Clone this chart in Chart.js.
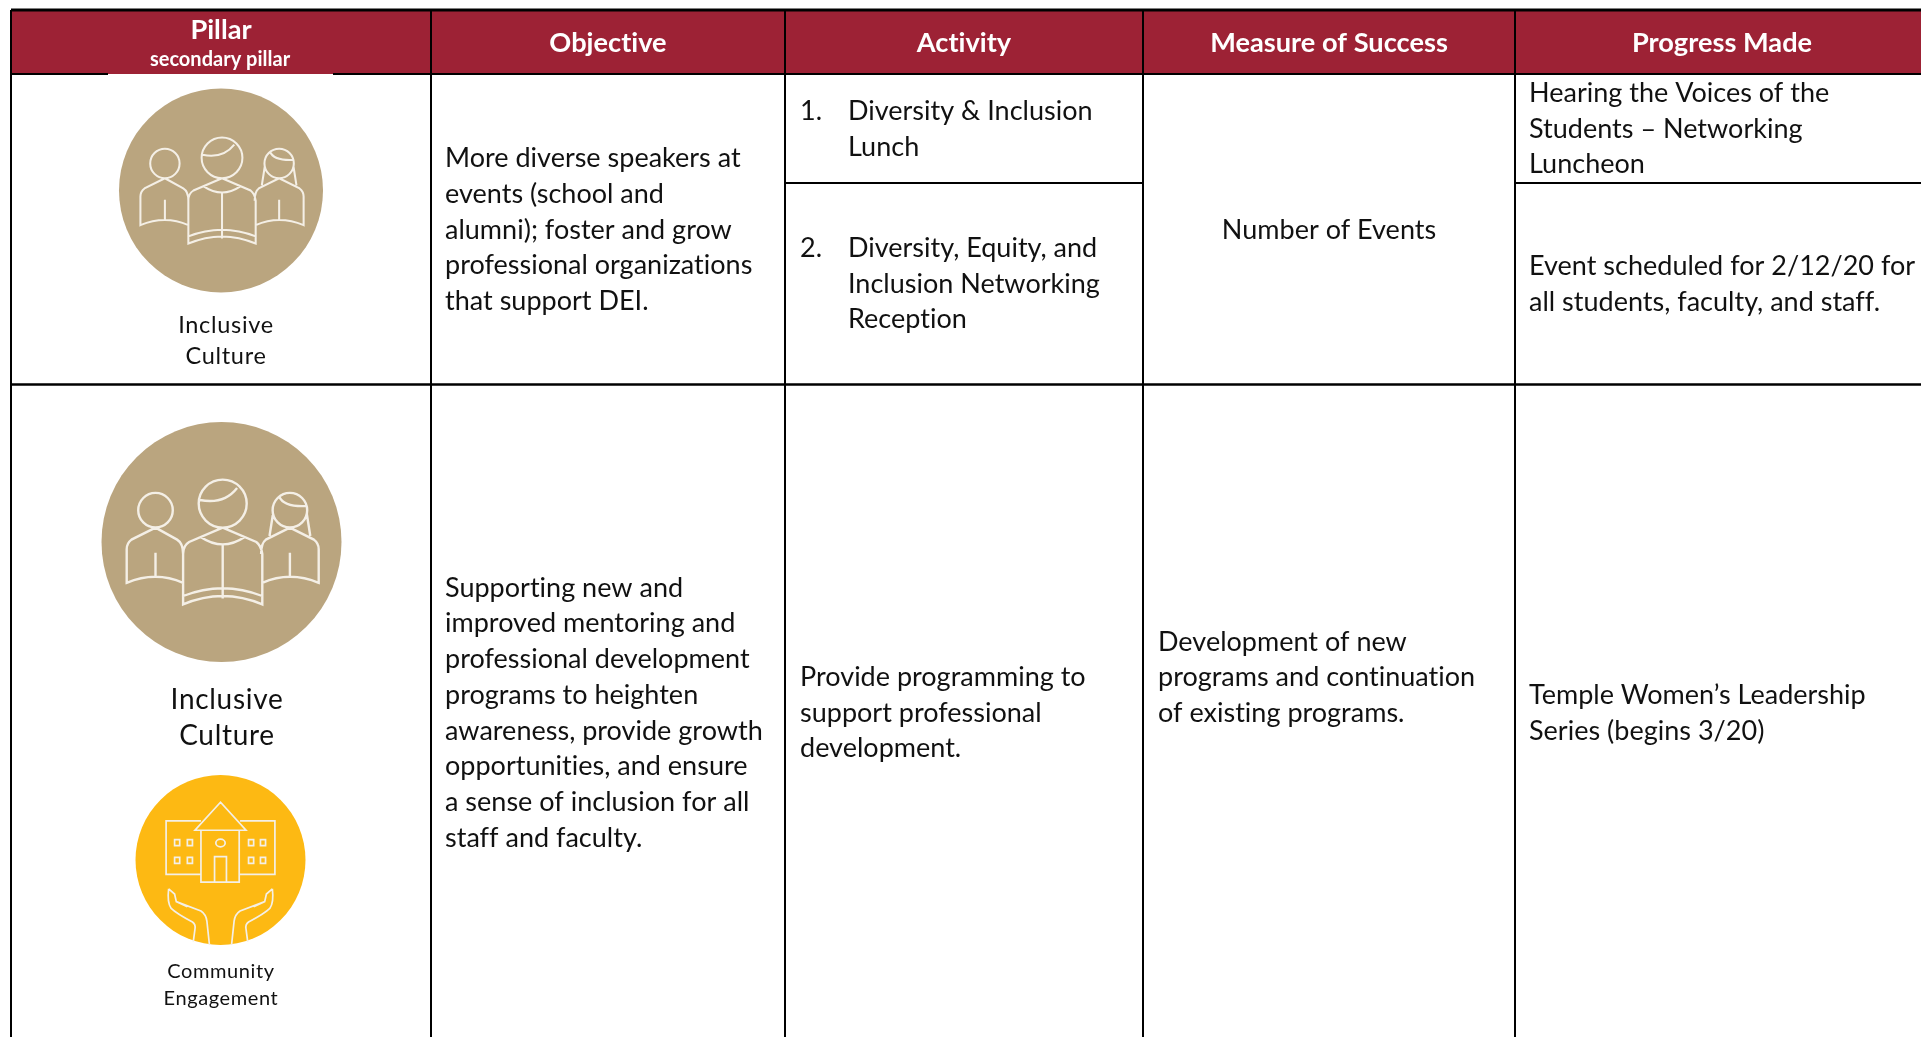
<!DOCTYPE html>
<html>
<head>
<meta charset="utf-8">
<title>Pillar table</title>
<script src="https://cdn.jsdelivr.net/npm/chart.js@4"></script>
<style>
  html, body { margin: 0; padding: 0; background: #fff; overflow: hidden; }
  canvas { display: block; }
</style>
</head>
<body>
<canvas id="pillarChart" width="1921" height="1037"></canvas>
<script>
// table content
const headers = ['Objective', 'Activity', 'Measure of Success', 'Progress Made'];
const pillarTitle = 'Pillar';
const pillarSubtitle = 'secondary pillar';
const objectiveTop = ['More diverse speakers at', 'events (school and', 'alumni); foster and grow', 'professional organizations', 'that support DEI.'];
const activityTopA = ['Diversity & Inclusion', 'Lunch'];
const activityTopB = ['Diversity, Equity, and', 'Inclusion Networking', 'Reception'];
const measureTop = ['Number of Events'];
const progressTopA = ['Hearing the Voices of the', 'Students \u2013 Networking', 'Luncheon'];
const progressTopB = ['Event scheduled for 2/12/20 for', 'all students, faculty, and staff.'];
const objectiveBottom = ['Supporting new and', 'improved mentoring and', 'professional development', 'programs to heighten', 'awareness, provide growth', 'opportunities, and ensure', 'a sense of inclusion for all', 'staff and faculty.'];
const activityBottom = ['Provide programming to', 'support professional', 'development.'];
const measureBottom = ['Development of new', 'programs and continuation', 'of existing programs.'];
const progressBottom = ['Temple Women\u2019s Leadership', 'Series (begins 3/20)'];
const pillarLabelTop = ['Inclusive', 'Culture'];
const pillarLabelMid = ['Inclusive', 'Culture'];
const pillarLabelLow = ['Community', 'Engagement'];

// table geometry, in page units on the hidden axes
const colEdges = [11, 431, 785, 1143, 1515];
const pageRight = 1921;
const pageBottom = 1037;
const tableTop = 10;
const headBottom = 74;
const subRow = 183;
const rowEdge = 384.5;
const rowMid = 713;

// icon discs
const discX = [221, 221.5, 220.5];
const discY = [190.5, 542, 860];
const discR = [102, 120, 85];
const TAN = '#BAA57F';
const GOLD = '#FDB913';
const CHERRY = '#9D2235';
const INK = '#111';

const peoplePath = new Path2D(
  'M21 -32a20 20 0 1 1 -40 0a20 20 0 1 1 40 0z M-18 -35Q2 -31 13 -45 ' +
  'M1 -12L-27 0Q-32 3 -32 10V52Q1 38 34 52V10Q33 3 29 0L1 -12 M-17 -4Q1 8 19 -4 M1 3V47 M-32 45Q1 32 34 45 ' +
  'M-40.6 -26.5a14.4 14.4 0 1 1 -28.8 0a14.4 14.4 0 1 1 28.8 0z ' +
  'M-55 -12L-75 -2Q-79 1 -79 6V34Q-55 24 -32 34 M-32 10Q-32 1 -37 -2L-55 -12 M-55 9V29 ' +
  'M71.4 -26.5a14.4 14.4 0 1 1 -28.8 0a14.4 14.4 0 1 1 28.8 0z M48 -38Q52 -29 71 -30 M43 -24L40 -5 M71 -24L74 -5 ' +
  'M57 -12L37 -2Q33 1 33 10 M34 34Q57 24 81 34V6Q81 1 77 -2L57 -12 M57 9V29'
);
const campusPath = new Path2D(
  'M-23 -46H-64V17H-23 M23 -46H64V17H23 M0 -68L-30 -35H30Z M-23 -35V26H22V-35 M-7 26V-4H7V26 ' +
  'M5.5 -20a5.5 4.5 0 1 1 -11 0a5.5 4.5 0 1 1 11 0z ' +
  'M-54 -24h6v7h-6z M-39 -24h6v7h-6z M33 -24h6v7h-6z M47 -24h6v7h-6z ' +
  'M-54 -3h6v7h-6z M-39 -3h6v7h-6z M33 -3h6v7h-6z M47 -3h6v7h-6z ' +
  'M-61 34Q-63 50 -58 57Q-52 63 -33 73Q-29 76 -30 81L-32 96 M-61 34L-54 40L-52 49L-39 55 M-52 49L-23 60Q-17 64 -16 72L-13 100 ' +
  'M61 34Q63 50 58 57Q52 63 33 73Q29 76 30 81L32 96 M61 34L54 40L52 49L39 55 M52 49L23 60Q17 64 16 72L13 100'
);

function putText(ctx, text, x, y, font, color, align, spacing) {
  ctx.save();
  ctx.font = font;
  ctx.fillStyle = color;
  ctx.textAlign = align || 'left';
  ctx.textBaseline = 'middle';
  // a non zero spacing also turns Lato's ti and fi ligatures off
  ctx.letterSpacing = (spacing || 0.01) + 'px';
  ctx.fillText(text, x, y);
  ctx.restore();
}

// lines is centred on cy, the way the table centres a cell
function putLines(ctx, lines, x, cy, opts) {
  const o = opts || {};
  const step = o.step || 35.7;
  const font = o.font || '27px Lato';
  const top = cy - step * (lines.length - 1) / 2;
  lines.forEach((line, i) => {
    putText(ctx, line, x, top + i * step, font, o.color || INK, o.align, o.spacing);
  });
}

const tablePlugin = {
  id: 'tablePlugin',
  beforeDatasetsDraw(chart) {
    const { ctx, scales } = chart;
    const px = v => scales.x.getPixelForValue(v);
    const py = v => scales.y.getPixelForValue(v);
    ctx.fillStyle = CHERRY;
    ctx.fillRect(px(colEdges[0]), py(tableTop), px(pageRight) - px(colEdges[0]), py(headBottom) - py(tableTop));
  },
  afterDatasetsDraw(chart) {
    const { ctx, scales } = chart;
    const px = v => scales.x.getPixelForValue(v);
    const py = v => scales.y.getPixelForValue(v);

    // icon artwork sits on the discs
    [[peoplePath, 0], [peoplePath, 1], [campusPath, 2]].forEach(([path, i]) => {
      ctx.save();
      ctx.translate(px(discX[i]), py(discY[i]));
      ctx.scale(discR[i] / 100, discR[i] / 100);
      ctx.strokeStyle = '#F4EFE6';
      ctx.lineWidth = 2;
      ctx.stroke(path);
      ctx.restore();
    });

    // header row
    const headFont = 'bold 27.2px Lato';
    putText(ctx, pillarTitle, px(221), py(30), headFont, '#fff', 'center');
    putText(ctx, pillarSubtitle, px(220), py(60), 'bold 20px Lato', '#fff', 'center');
    headers.forEach((h, i) => {
      const mid = i < 3 ? (colEdges[i + 1] + colEdges[i + 2]) / 2 : 1722;
      putText(ctx, h, px(mid), py(43), headFont, '#fff', 'center');
    });

    // first column labels
    putLines(ctx, pillarLabelTop, px(226), py(340.5), { step: 31, font: '23.5px Lato', align: 'center', spacing: 0.7 });
    putLines(ctx, pillarLabelMid, px(227), py(718), { step: 36.5, font: '28px Lato', align: 'center', spacing: 0.7 });
    putLines(ctx, pillarLabelLow, px(221), py(985), { step: 26.5, font: '20px Lato', align: 'center', spacing: 0.6 });

    // upper row
    putLines(ctx, objectiveTop, px(445), py(230));
    putText(ctx, '1.', px(800), py(111), '27px Lato', INK);
    putLines(ctx, activityTopA, px(848), py(129));
    putText(ctx, '2.', px(800), py(248.5), '27px Lato', INK);
    putLines(ctx, activityTopB, px(848), py(284));
    putLines(ctx, measureTop, px(1329), py(230), { align: 'center' });
    putLines(ctx, progressTopA, px(1529), py(129));
    putLines(ctx, progressTopB, px(1529), py(284));

    // lower row
    putLines(ctx, objectiveBottom, px(445), py(rowMid));
    putLines(ctx, activityBottom, px(800), py(rowMid));
    putLines(ctx, measureBottom, px(1158), py(677.5));
    putLines(ctx, progressBottom, px(1529), py(rowMid));
  }
};

// every rule of the table is a two point line dataset
function rule(x1, y1, x2, y2, width) {
  return {
    type: 'scatter',
    showLine: true,
    data: [{ x: x1, y: y1 }, { x: x2, y: y2 }],
    borderColor: '#000',
    borderWidth: width || 2,
    pointRadius: 0,
    order: 2
  };
}

const rules = [
  rule(colEdges[0], tableTop, pageRight, tableTop, 3),
  rule(colEdges[0], headBottom, 108, headBottom),
  rule(333, headBottom, pageRight, headBottom),
  rule(colEdges[0], rowEdge, pageRight, rowEdge, 2.5),
  rule(colEdges[2], subRow, colEdges[3], subRow),
  rule(colEdges[4], subRow, pageRight, subRow),
  ...colEdges.map(x => rule(x, tableTop, x, pageBottom))
];

new Chart(document.getElementById('pillarChart'), {
  type: 'bubble',
  data: {
    datasets: [
      {
        label: 'Pillars',
        data: discX.map((x, i) => ({ x: x, y: discY[i], r: discR[i] })),
        backgroundColor: [TAN, TAN, GOLD],
        borderWidth: 0,
        order: 1
      },
      ...rules
    ]
  },
  options: {
    responsive: false,
    animation: false,
    layout: { padding: 0, autoPadding: false },
    plugins: {
      legend: { display: false },
      tooltip: { enabled: false }
    },
    events: [],
    scales: {
      x: { type: 'linear', min: 0, max: pageRight, display: false },
      y: { type: 'linear', min: 0, max: pageBottom, reverse: true, display: false }
    }
  },
  plugins: [tablePlugin]
});
</script>
</body>
</html>
